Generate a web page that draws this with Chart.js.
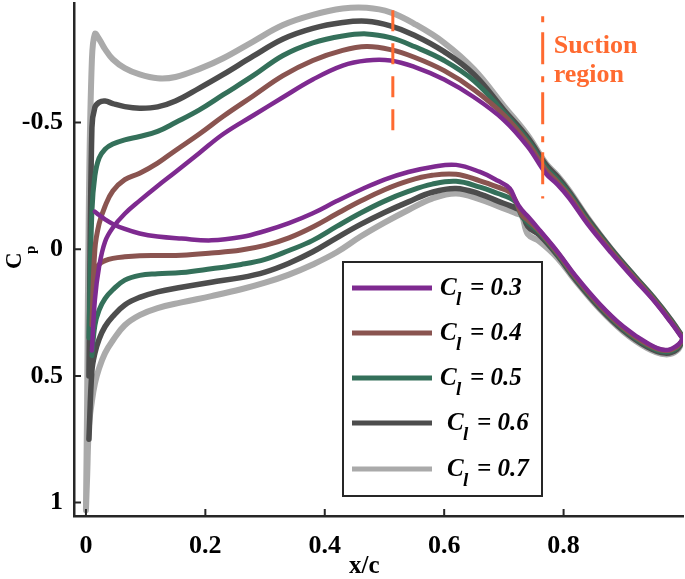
<!DOCTYPE html>
<html>
<head>
<meta charset="utf-8">
<script src="https://cdn.jsdelivr.net/npm/chart.js@4.4.0/dist/chart.umd.min.js"></script>
<style>
  html, body { margin: 0; padding: 0; background: #fff; }
  #wrap { width: 685px; height: 579px; position: relative; }
</style>
</head>
<body>
<div id="wrap"><canvas id="cp-chart"></canvas></div>
<script>
// pressure coefficient along the chord, one loop per lift coefficient
const clValues = ['0.3', '0.4', '0.5', '0.6', '0.7'];

const xUpper = [0, 0.002, 0.005, 0.01, 0.015, 0.022, 0.032, 0.045, 0.065, 0.09, 0.12, 0.15, 0.19, 0.23,
  0.28, 0.33, 0.38, 0.43, 0.47, 0.51, 0.55, 0.60, 0.65, 0.70, 0.74, 0.77, 0.79, 0.81, 0.84, 0.88,
  0.92, 0.95, 0.98, 1.0];
const cpUpper03 = [null, null, null, 0.4, 0.2, 0.07, -0.03, -0.085, -0.14, -0.192, -0.25, -0.305, -0.38, -0.455,
  -0.528, -0.60, -0.67, -0.725, -0.745, -0.745, -0.72, -0.67, -0.60, -0.51, -0.405, -0.30, -0.255, -0.2, -0.1, 0.015,
  0.122, 0.2, 0.29, 0.355];
const cpUpper04 = [null, null, null, 0.3, 0.0, -0.1, -0.17, -0.23, -0.275, -0.30, -0.34, -0.39, -0.455, -0.525,
  -0.605, -0.685, -0.745, -0.785, -0.80, -0.788, -0.758, -0.705, -0.63, -0.53, -0.42, -0.315, -0.265, -0.21, -0.108, 0.008,
  0.116, 0.196, 0.286, 0.352];
const cpUpper05 = [null, null, 0.35, -0.15, -0.29, -0.36, -0.395, -0.415, -0.432, -0.445, -0.465, -0.50, -0.55, -0.61,
  -0.685, -0.765, -0.815, -0.842, -0.85, -0.835, -0.80, -0.745, -0.665, -0.54, -0.43, -0.325, -0.275, -0.218, -0.115, 0.003,
  0.112, 0.192, 0.282, 0.35];
const cpUpper06 = [null, null, 0.5, -0.48, -0.56, -0.58, -0.585, -0.575, -0.563, -0.557, -0.562, -0.585, -0.636, -0.69,
  -0.762, -0.83, -0.872, -0.895, -0.90, -0.882, -0.845, -0.78, -0.69, -0.55, -0.44, -0.335, -0.285, -0.225, -0.122, 0.0,
  0.11, 0.19, 0.28, 0.35];
const cpUpper07 = [1.03, 0.6, -0.2, -0.75, -0.85, -0.83, -0.79, -0.75, -0.715, -0.69, -0.675, -0.68, -0.712, -0.754,
  -0.82, -0.885, -0.925, -0.95, -0.953, -0.935, -0.89, -0.815, -0.71, -0.565, -0.45, -0.34, -0.29, -0.23, -0.125, 0.0,
  0.11, 0.19, 0.28, 0.35];

const xLower = [0, 0.002, 0.005, 0.01, 0.015, 0.022, 0.032, 0.045, 0.065, 0.09, 0.12, 0.16, 0.21, 0.26, 0.30,
  0.34, 0.38, 0.42, 0.46, 0.50, 0.54, 0.58, 0.62, 0.66, 0.69, 0.71, 0.72, 0.73, 0.74, 0.76, 0.79, 0.82,
  0.86, 0.90, 0.94, 0.97, 0.99, 1.0];
const cpLower03 = [null, null, null, null, -0.148, -0.135, -0.118, -0.10, -0.08, -0.062, -0.05, -0.042, -0.035, -0.048, -0.072,
  -0.103, -0.142, -0.19, -0.235, -0.275, -0.305, -0.325, -0.333, -0.305, -0.27, -0.24, -0.19, -0.155, -0.13, -0.075, 0.01, 0.105,
  0.215, 0.305, 0.37, 0.398, 0.38, 0.355];
const cpLower04 = [null, null, null, 0.3, 0.1, 0.06, 0.045, 0.036, 0.03, 0.026, 0.025, 0.024, 0.015, 0.003, -0.015,
  -0.045, -0.088, -0.14, -0.19, -0.235, -0.27, -0.292, -0.296, -0.27, -0.245, -0.225, -0.19, -0.135, -0.115, -0.07, 0.015, 0.11,
  0.22, 0.31, 0.375, 0.40, 0.385, 0.355];
const cpLower05 = [null, null, null, 0.42, 0.30, 0.24, 0.195, 0.16, 0.122, 0.103, 0.097, 0.092, 0.077, 0.06, 0.04,
  0.005, -0.035, -0.09, -0.143, -0.19, -0.228, -0.257, -0.268, -0.245, -0.22, -0.202, -0.185, -0.13, -0.105, -0.065, 0.02, 0.115,
  0.225, 0.315, 0.38, 0.405, 0.39, 0.355];
const cpLower06 = [null, null, 0.75, 0.48, 0.41, 0.355, 0.305, 0.265, 0.22, 0.19, 0.168, 0.15, 0.13, 0.112, 0.09,
  0.055, 0.01, -0.045, -0.098, -0.145, -0.187, -0.225, -0.24, -0.218, -0.19, -0.172, -0.162, -0.15, -0.09, -0.055, 0.025, 0.12,
  0.23, 0.32, 0.385, 0.41, 0.395, 0.355];
const cpLower07 = [1.03, 0.9, 0.7, 0.6, 0.53, 0.47, 0.41, 0.36, 0.3, 0.26, 0.232, 0.21, 0.185, 0.158, 0.132,
  0.1, 0.06, 0.012, -0.05, -0.105, -0.155, -0.2, -0.22, -0.197, -0.17, -0.152, -0.142, -0.132, -0.06, -0.03, 0.035, 0.125,
  0.235, 0.325, 0.39, 0.415, 0.40, 0.355];

// dashed markers of the suction region
const markerX = [0.514, 0.765];
const markerCpFrom = [-0.47, -0.92];
const markerCpTo = [-0.99, -0.20];

const xTicks = [0, 0.2, 0.4, 0.6, 0.8];
const yTicks = [-0.5, 0, 0.5, 1];

const curveColors = ['#7e2a90', '#8a5450', '#34705a', '#4d4d4d', '#aaaaaa'];
const curveWidths = [4.5, 5, 5, 5.5, 6];
const orange = '#ff6a30';
const axisColor = '#262626';
const serif = '"Liberation Serif", "Times New Roman", serif';

function buildLoop(cpU, cpL) {
  let pts = xUpper.map((x, i) => ({x: x, y: cpU[i]}));
  for (let i = xLower.length - 1; i >= 0; i--) {
    pts.push({x: xLower[i], y: cpL[i]});
  }
  return pts.filter(p => p.y !== null);
}

let upperSets = [cpUpper03, cpUpper04, cpUpper05, cpUpper06, cpUpper07];
let lowerSets = [cpLower03, cpLower04, cpLower05, cpLower06, cpLower07];

let datasets = [];
markerX.forEach((mx, i) => {
  datasets.push({
    label: 'marker' + i,
    isMarker: true,
    data: [{x: mx, y: markerCpFrom[i]}, {x: mx, y: markerCpTo[i]}],
    showLine: true,
    borderColor: orange,
    borderWidth: 3,
    borderDash: i === 0 ? [21, 12] : [6, 10, 32, 12],
    pointRadius: 0
  });
});
clValues.forEach((cl, i) => {
  datasets.push({
    label: cl,
    data: buildLoop(upperSets[i], lowerSets[i]),
    showLine: true,
    borderColor: curveColors[i],
    borderWidth: curveWidths[i],
    tension: 0.4,
    pointRadius: 0,
    borderCapStyle: 'round',
    borderJoinStyle: 'round'
  });
});

function drawCl(ctx, x, y, value) {
  ctx.fillStyle = '#000';
  ctx.textAlign = 'left';
  ctx.textBaseline = 'alphabetic';
  ctx.font = 'italic bold 25px ' + serif;
  ctx.fillText('C', x, y + 7);
  ctx.font = 'italic bold 19px ' + serif;
  ctx.fillText('l', x + 16, y + 17);
  ctx.font = 'italic bold 25px ' + serif;
  ctx.fillText('= ' + value, x + 30, y + 7);
}

const cpDecor = {
  id: 'cpDecor',
  afterDraw(chart) {
    const ctx = chart.ctx;
    const area = chart.chartArea;
    const xs = chart.scales.x;
    const ys = chart.scales.y;
    ctx.save();

    // ticks pointing into the plot
    ctx.strokeStyle = axisColor;
    ctx.lineWidth = 2;
    ctx.beginPath();
    xTicks.forEach(v => {
      let px = xs.getPixelForValue(v);
      ctx.moveTo(px, area.bottom);
      ctx.lineTo(px, area.bottom - 7);
    });
    yTicks.forEach(v => {
      let py = ys.getPixelForValue(v);
      ctx.moveTo(area.left, py);
      ctx.lineTo(area.left + 7, py);
    });
    ctx.stroke();

    // axis titles
    ctx.fillStyle = '#000';
    ctx.textBaseline = 'alphabetic';
    ctx.textAlign = 'left';
    ctx.font = 'bold 25px ' + serif;
    ctx.fillText('x/c', 349, 573);

    ctx.save();
    ctx.translate(21, 269);
    ctx.rotate(-Math.PI / 2);
    ctx.font = 'bold 23px ' + serif;
    ctx.fillText('C', 0, 0);
    ctx.font = 'bold 15px ' + serif;
    ctx.fillText('p', 15, 14);
    ctx.restore();

    // suction region note
    ctx.fillStyle = orange;
    ctx.font = 'bold 26px ' + serif;
    let tx = xs.getPixelForValue(markerX[1]) + 11;
    ctx.fillText('Suction', tx, 53);
    ctx.fillText('region', tx, 82);

    // legend
    ctx.fillStyle = '#fff';
    ctx.fillRect(343, 262, 199, 234);
    ctx.strokeStyle = axisColor;
    ctx.lineWidth = 2;
    ctx.strokeRect(343, 262, 199, 234);
    let rows = [288, 333, 378, 423, 469];
    let textX = [440, 440, 440, 447, 447];
    chart.data.datasets.filter(d => !d.isMarker).forEach((d, i) => {
      ctx.strokeStyle = d.borderColor;
      ctx.lineWidth = 5;
      ctx.beginPath();
      ctx.moveTo(352, rows[i]);
      ctx.lineTo(432, rows[i]);
      ctx.stroke();
      drawCl(ctx, textX[i], rows[i], d.label);
    });

    ctx.restore();
  }
};

new Chart(document.getElementById('cp-chart'), {
  type: 'scatter',
  data: {datasets: datasets},
  options: {
    responsive: true,
    maintainAspectRatio: false,
    animation: false,
    layout: {padding: {top: 3, right: 2, left: 0, bottom: 0}},
    plugins: {legend: {display: false}, tooltip: {enabled: false}},
    scales: {
      x: {
        type: 'linear',
        min: -0.02,
        max: 1.0,
        grid: {display: false, drawTicks: false, tickLength: 0},
        border: {display: true, color: axisColor, width: 2.5},
        ticks: {
          color: '#000',
          font: {family: serif, size: 26, weight: 'bold'},
          padding: 15,
          callback: v => String(v)
        },
        afterBuildTicks: s => { s.ticks = xTicks.map(v => ({value: v})); },
        afterFit: s => { s.height = 63; s.paddingLeft = 0; s.paddingRight = 0; }
      },
      y: {
        type: 'linear',
        reverse: true,
        min: -0.972,
        max: 1.053,
        grid: {display: false, drawTicks: false, tickLength: 0},
        border: {display: true, color: axisColor, width: 2.5},
        ticks: {
          color: '#000',
          font: {family: serif, size: 26, weight: 'bold'},
          padding: 11,
          callback: v => String(v)
        },
        afterBuildTicks: s => { s.ticks = yTicks.map(v => ({value: v})); },
        afterFit: s => { s.width = 74; s.paddingTop = 0; s.paddingBottom = 0; }
      }
    }
  },
  plugins: [cpDecor]
});
</script>
</body>
</html>
